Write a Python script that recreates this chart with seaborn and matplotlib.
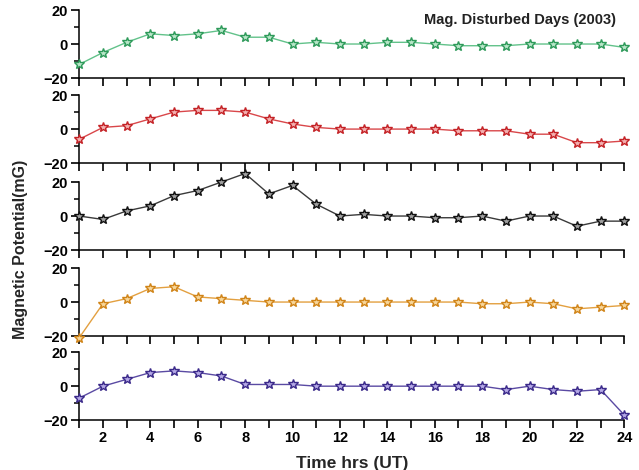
import matplotlib
matplotlib.use("Agg")
import matplotlib.pyplot as plt
import seaborn as sns
import numpy as np

sns.set_theme(style="ticks")
plt.rcParams['font.family'] = ['Liberation Sans', 'DejaVu Sans']
plt.rcParams['xtick.bottom'] = True
plt.rcParams['ytick.left'] = True

hours = list(range(1, 25))
green_vals = [-12, -5, 1, 6, 5, 6, 8, 4, 4, 0, 1, 0, 0, 1, 1, 0, -1, -1, -1, 0, 0, 0, 0, -2]
red_vals = [-6, 1, 2, 6, 10, 11, 11, 10, 6, 3, 1, 0, 0, 0, 0, 0, -1, -1, -1, -3, -3, -8, -8, -7]
black_vals = [0, -2, 3, 6, 12, 15, 20, 25, 13, 18, 7, 0, 1, 0, 0, -1, -1, 0, -3, 0, 0, -6, -3, -3]
orange_vals = [-21, -1, 2, 8, 9, 3, 2, 1, 0, 0, 0, 0, 0, 0, 0, 0, 0, -1, -1, 0, -1, -4, -3, -2]
purple_vals = [-7, 0, 4, 8, 9, 8, 6, 1, 1, 1, 0, 0, 0, 0, 0, 0, 0, 0, -2, 0, -2, -3, -2, -17]

series = [green_vals, red_vals, black_vals, orange_vals, purple_vals]
line_colors = ["#62c28a", "#d9474a", "#3a3a3a", "#e3a040", "#5a4aa3"]
edge_colors = ["#2e9a5a", "#c42226", "#111111", "#d08418", "#3b2a8a"]
face_colors = ["#b8e6c8", "#f3b0b0", "#a0a0a0", "#f7d69a", "#b4a8e6"]

fig = plt.figure(figsize=(6.39, 4.70), dpi=100)
left, width, height = 0.124, 0.853, 0.1447
bottoms = [0.834, 0.653, 0.468, 0.285, 0.106]

for i, vals in enumerate(series):
    ax = fig.add_axes([left, bottoms[i], width, height])
    sns.lineplot(x=hours, y=vals, ax=ax, color=line_colors[i], linewidth=1.0,
                 marker="*", markersize=7.5, markerfacecolor=face_colors[i],
                 markeredgecolor=edge_colors[i], markeredgewidth=1.0,
                 clip_on=False, zorder=3)
    ax.set_xlim(1, 24)
    ax.set_ylim(-20, 20)
    for s in ["top", "right"]:
        ax.spines[s].set_visible(False)
    for s in ["left", "bottom"]:
        ax.spines[s].set_color("black")
        ax.spines[s].set_linewidth(1.1)
    ax.set_yticks([-20, 0, 20])
    ax.set_yticks([-10, 10], minor=True)
    ax.set_xticks(hours)
    ax.tick_params(axis="both", which="major", direction="out", length=6, width=1.2,
                   colors="black", labelsize=10.5, pad=2, bottom=True, left=True)
    ax.tick_params(axis="y", which="minor", direction="out", length=3.5, width=1.1,
                   colors="black", left=True)
    for lab in ax.get_yticklabels():
        lab.set_fontweight("bold")
    if i < 4:
        ax.set_xticklabels([])
    else:
        ax.set_xticklabels([str(h) if h % 2 == 0 else "" for h in hours], fontweight="bold")
        ax.set_xlabel("Time hrs (UT)", fontsize=12.5, fontweight="bold", labelpad=8)
    if i == 0:
        ax.text(0.985, 0.95, "Mag. Disturbed Days (2003)", transform=ax.transAxes,
                ha="right", va="top", fontsize=10.5, fontweight="bold", color="#222222")
    ax.patch.set_alpha(0)

fig.text(0.032, 0.47, "Magnetic Potential(mG)", rotation=90, ha="center", va="center",
         fontsize=11.5, fontweight="bold")

fig.savefig("out.png", dpi=100)
